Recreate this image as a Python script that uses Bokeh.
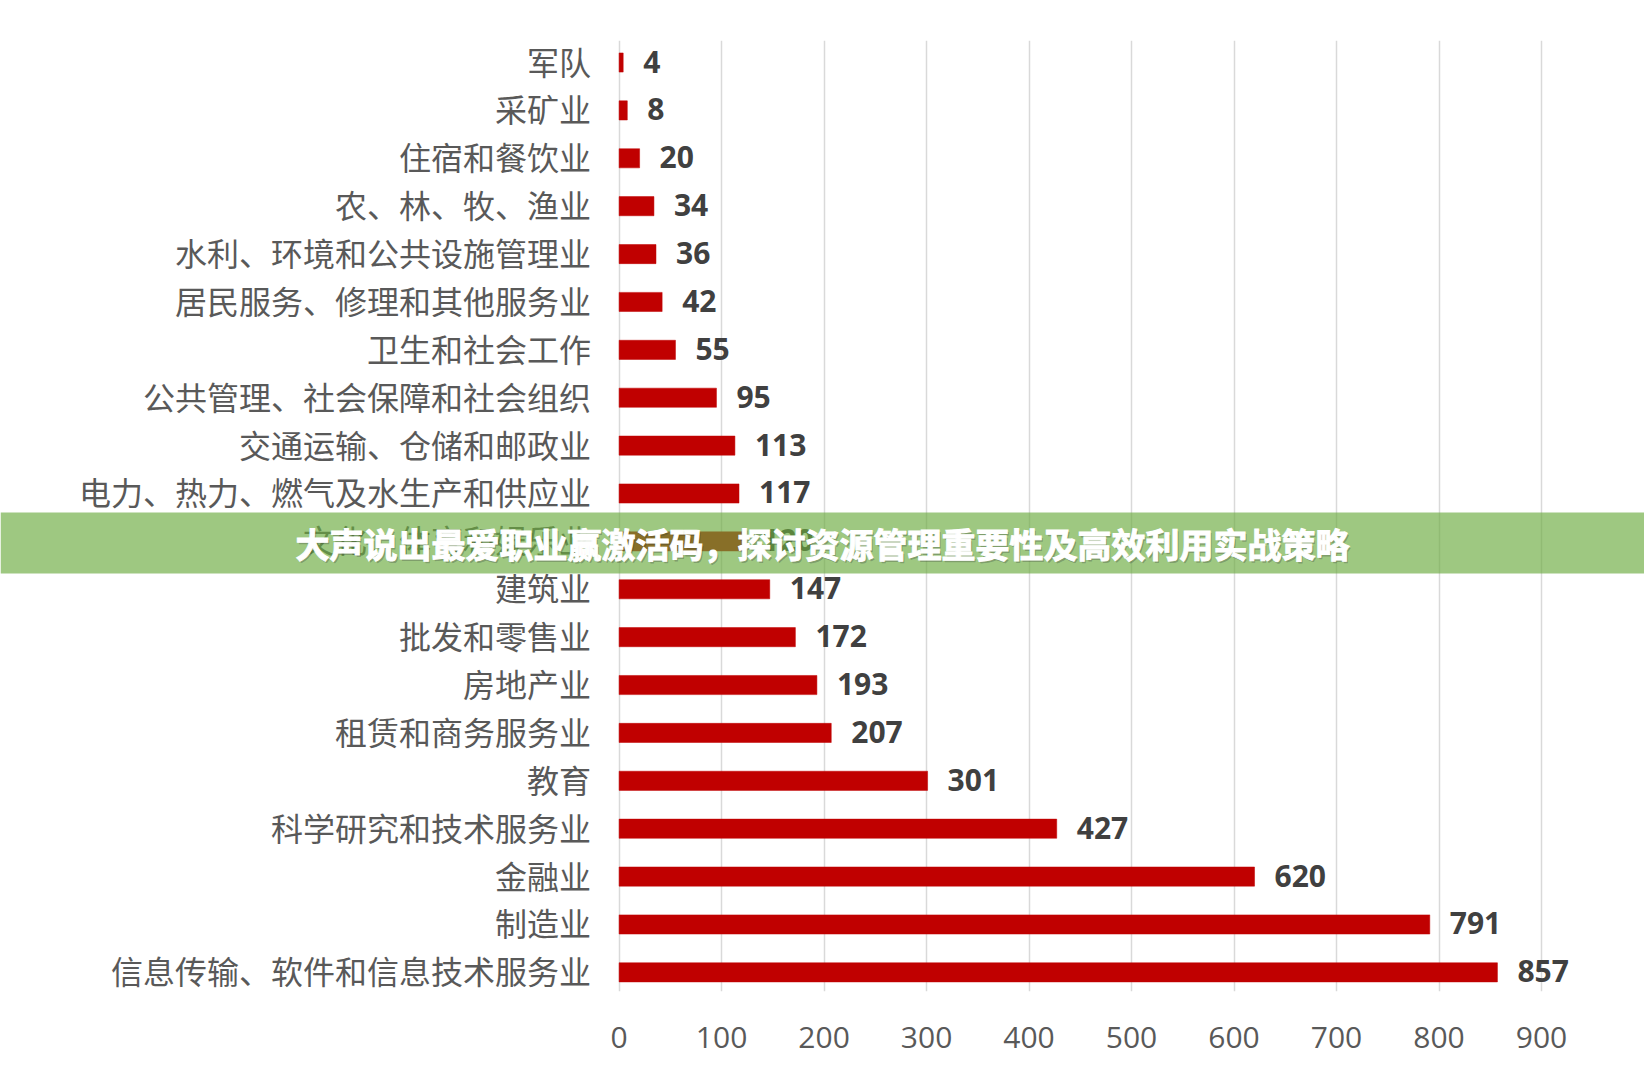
from bokeh.plotting import figure
from bokeh.models import ColumnDataSource, FixedTicker, Range1d, BoxAnnotation, Label
from bokeh.embed import file_html
from bokeh.resources import INLINE
from bokeh.core.properties import value

# ---- data (top to bottom as in the chart) ----
categories = [
    "军队", "采矿业", "住宿和餐饮业", "农、林、牧、渔业", "水利、环境和公共设施管理业",
    "居民服务、修理和其他服务业", "卫生和社会工作", "公共管理、社会保障和社会组织",
    "交通运输、仓储和邮政业", "电力、热力、燃气及水生产和供应业", "文化、体育和娱乐业",
    "建筑业", "批发和零售业", "房地产业", "租赁和商务服务业", "教育",
    "科学研究和技术服务业", "金融业", "制造业", "信息传输、软件和信息技术服务业",
]
values = [4, 8, 20, 34, 36, 42, 55, 95, 113, 117, 120, 147, 172, 193, 207, 301, 427, 620, 791, 857]
x_ticks = [0, 100, 200, 300, 400, 500, 600, 700, 800, 900]
banner_text = "大声说出最爱职业赢激活码，探讨资源管理重要性及高效利用实战策略"

n = len(categories)
ypos = [n - 1 - i for i in range(n)]
src = ColumnDataSource(dict(y=ypos, v=values, label=[str(v) for v in values],
                            cat=categories, zero=[0] * n))

W, H = 1644, 1080
NUMF = "'Open Sans'"
CJK = "'Noto Sans CJK SC'"

# frame spans the full canvas width; 0 sits at x≈619 px, 900 at x≈1541 px
px_per_unit = (1541 - 618.6) / 900
x_lo = -618.6 / px_per_unit
x_hi = 900 + (W - 1541) / px_per_unit

p = figure(width=W, height=H, output_backend="svg", toolbar_location=None,
           x_range=Range1d(x_lo, x_hi), y_range=Range1d(-0.40, n - 1 + 0.46),
           min_border_left=0, min_border_right=0, min_border_top=40, min_border_bottom=H - 991)
p.outline_line_color = None
p.background_fill_color = "white"

p.hbar(y="y", left=0, right="v", height=0.4, fill_color="#C00000", line_color="#C00000",
       line_width=0.5, source=src)
p.text(x="v", y="y", text="label", x_offset=20, y_offset=-1, text_baseline="middle",
       text_align="left", text_font=value(NUMF), text_font_style="bold",
       text_font_size="30px", text_color="#404040", source=src)
# category labels placed at the 0 line
p.text(x="zero", y="y", text="cat", x_offset=-28, y_offset=-2, text_baseline="middle",
       text_align="right", text_font=value(CJK), text_font_size="32px",
       text_color="#595959", source=src)

# axes
p.xaxis.ticker = FixedTicker(ticks=x_ticks)
p.xaxis.axis_line_color = None
p.xaxis.major_tick_line_color = None
p.xaxis.minor_tick_line_color = None
p.xaxis.major_label_standoff = 29
p.xaxis.major_label_text_font = NUMF
p.xaxis.major_label_text_font_size = "30px"
p.xaxis.major_label_text_color = "#595959"

p.yaxis.visible = False

p.xgrid.grid_line_color = "#d9d9d9"
p.xgrid.grid_line_width = 1.5
p.ygrid.grid_line_color = None

# overlay banner
banner = BoxAnnotation(left=0, right=W, top=512, bottom=573,
                       left_units="canvas", right_units="canvas",
                       top_units="canvas", bottom_units="canvas",
                       fill_color=(106, 171, 62), fill_alpha=0.65, line_color=None,
                       level="overlay")
p.add_layout(banner)
shadow = Label(x=822 + 1.5, y=544.5, x_units="canvas", y_units="canvas", text=banner_text,
               text_align="center", text_baseline="middle", text_font=CJK,
               text_font_style="bold", text_font_size="34px", text_color="#333333",
               text_alpha=0.3, level="overlay")
title = Label(x=822, y=543, x_units="canvas", y_units="canvas", text=banner_text,
              text_align="center", text_baseline="middle", text_font=CJK,
              text_font_style="bold", text_font_size="34px", text_color="white",
              text_outline_color="white", level="overlay")
p.add_layout(shadow)
p.add_layout(title)

open("out.html", "w").write(file_html(p, INLINE))
